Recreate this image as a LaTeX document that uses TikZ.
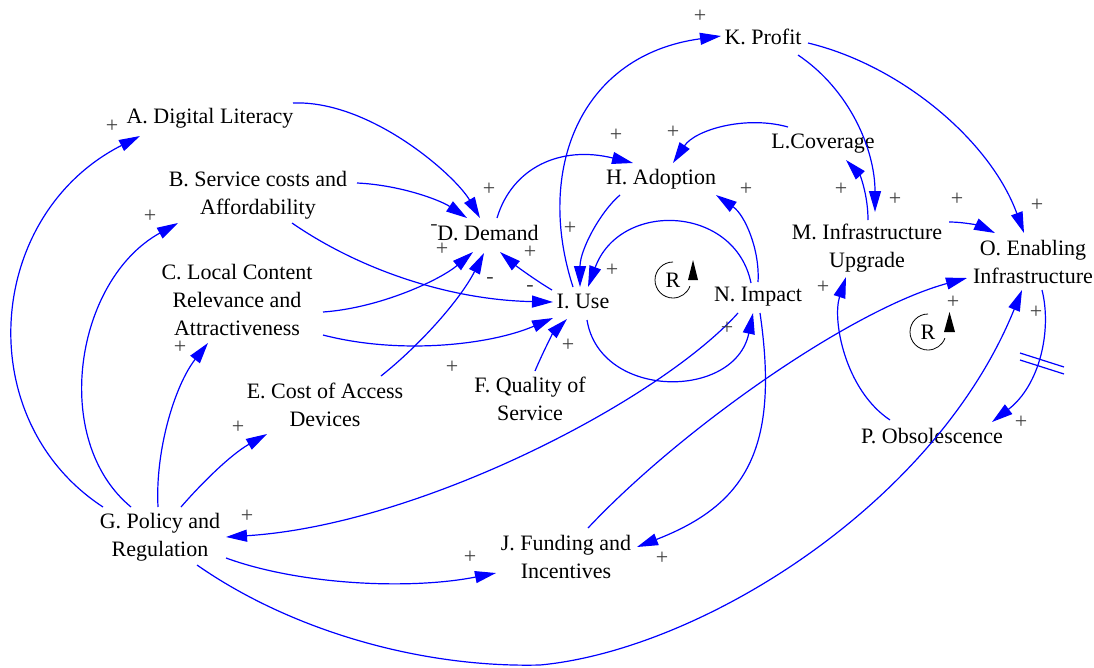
\documentclass[tikz,border=0pt]{standalone}
\usepackage{fontspec}
\setmainfont{Liberation Serif}
\usetikzlibrary{arrows.meta}
\definecolor{linkblue}{RGB}{0,0,255}
\begin{document}
\begin{tikzpicture}[x=1pt,y=-1pt,
  var/.style={align=center, inner sep=0pt, font=\fontsize{22}{28}\selectfont},
  link/.style={draw=linkblue, line width=1.2pt, -{Triangle[length=21pt,width=12pt]}},
  pol/.style={anchor=base, inner sep=0pt, text=black!75, font=\fontsize{22}{22}\selectfont},
  loopname/.style={inner sep=0pt, font=\fontsize{22}{22}\selectfont},
  loopring/.style={draw=black, line width=0.8pt}]
\useasboundingbox (0,0) rectangle (1094,667);

% variables
\node[var] (A) at (210,118) {A. Digital Literacy};
\node[var] (B) at (258,195) {B. Service costs and\\Affordability};
\node[var] (C) at (237,300) {C. Local Content\\Relevance and\\Attractiveness};
\node[var] (D) at (488,233) {D. Demand};
\node[var] (E) at (325,405) {E. Cost of Access\\Devices};
\node[var] (F) at (530,399) {F. Quality of\\Service};
\node[var] (G) at (160,537) {G. Policy and\\Regulation};
\node[var] (H) at (661,179) {H. Adoption};
\node[var] (I) at (583,301) {I. Use};
\node[var] (J) at (566,557) {J. Funding and\\Incentives};
\node[var] (K) at (763,37) {K. Profit};
\node[var] (L) at (823,144) {L.Coverage};
\node[var] (M) at (867,248) {M. Infrastructure\\Upgrade};
\node[var] (N) at (758,297) {N. Impact};
\node[var] (O) at (1033,262) {O. Enabling\\Infrastructure};
\node[var] (P) at (932,436) {P. Obsolescence};

% causal links
\draw[link] ([shift={(-57,-30)}]G.center) .. controls (-30,420) and (-15,215) .. ([shift={(-70,18)}]A.center);
\draw[link] ([shift={(-29,-30)}]G.center) .. controls (50,440) and (75,280) .. ([shift={(-80,28)}]B.center);
\draw[link] ([shift={(-2,-30)}]G.center) .. controls (155,450) and (175,385) .. ([shift={(-29,43)}]C.center);
\draw[link] ([shift={(21,-30)}]G.center) .. controls (200,485) and (230,455) .. ([shift={(-58,29)}]E.center);
\draw[link] ([shift={(-20,16)}]N.center) .. controls (660,400) and (420,525) .. ([shift={(66,0)}]G.center);
\draw[link] ([shift={(66,21)}]G.center) .. controls (300,585) and (410,590) .. ([shift={(-70,16)}]J.center);
\draw[link] ([shift={(37,28)}]G.center) .. controls (290,630) and (420,668) .. (540,665)
  .. controls (700,650) and (935,505) .. ([shift={(-11,28)}]O.center);
\draw[link] ([shift={(83,-15)}]A.center) .. controls (370,100) and (455,175) .. ([shift={(-8,-15)}]D.center);
\draw[link] ([shift={(99,-12)}]B.center) .. controls (400,185) and (440,200) .. ([shift={(-21,-15)}]D.center);
\draw[link] ([shift={(34,28)}]B.center) .. controls (360,270) and (450,300) .. ([shift={(-30,1)}]I.center);
\draw[link] ([shift={(86,12)}]C.center) .. controls (380,308) and (440,280) .. ([shift={(-15,19)}]D.center);
\draw[link] ([shift={(86,35)}]C.center) .. controls (400,355) and (490,345) .. ([shift={(-30,17)}]I.center);
\draw[link] ([shift={(56,-29)}]E.center) .. controls (420,345) and (460,300) .. ([shift={(-4,20)}]D.center);
\draw[link] ([shift={(-31,-11)}]I.center) .. controls (535,280) and (515,265) .. ([shift={(12,19)}]D.center);
\draw[link] ([shift={(5,-28)}]F.center) .. controls (543,352) and (553,333) .. ([shift={(-16,18)}]I.center);
\draw[link] ([shift={(9,-15)}]D.center) .. controls (512,168) and (560,145) .. ([shift={(-28,-16)}]H.center);
\draw[link] ([shift={(-41,16)}]H.center) .. controls (600,212) and (580,250) .. ([shift={(-3,-14)}]I.center);
\draw[link] ([shift={(-7,-14)}]N.center) .. controls (735,205) and (620,200) .. ([shift={(5,-14)}]I.center);
\draw[link] ([shift={(0,-15)}]N.center) .. controls (760,250) and (745,215) .. ([shift={(55,16)}]H.center);
\draw[link] ([shift={(-10,-14)}]I.center) .. controls (535,170) and (580,55) .. ([shift={(-42,-1)}]K.center);
\draw[link] ([shift={(4,19)}]I.center) .. controls (600,400) and (735,400) .. ([shift={(-5,16)}]N.center);
\draw[link] ([shift={(2,16)}]N.center) .. controls (780,450) and (745,505) .. ([shift={(71,-10)}]J.center);
\draw[link] ([shift={(22,-29)}]J.center) .. controls (680,430) and (850,310) .. ([shift={(-66,16)}]O.center);
\draw[link] ([shift={(35,18)}]K.center) .. controls (850,90) and (875,150) .. ([shift={(8,-36)}]M.center);
\draw[link] ([shift={(45,6)}]K.center) .. controls (900,65) and (990,140) .. ([shift={(-9,-29)}]O.center);
\draw[link] ([shift={(-35,-17)}]L.center) .. controls (745,115) and (695,130) .. ([shift={(12,-16)}]H.center);
\draw[link] ([shift={(1,-28)}]M.center) .. controls (868,195) and (860,175) .. ([shift={(23,16)}]L.center);
\draw[link] ([shift={(82,-26)}]M.center) .. controls (965,222) and (980,226) .. ([shift={(-38,-29)}]O.center);
\draw[link] ([shift={(-42,-16)}]P.center) .. controls (845,390) and (832,320) .. ([shift={(-21,29)}]M.center);
\draw[link] ([shift={(9,28)}]O.center) .. controls (1052,330) and (1040,385) .. ([shift={(60,-14)}]P.center);

% delay mark on the obsolescence link
\draw[linkblue, line width=1.2pt] (1020,353) -- (1064,367);
\draw[linkblue, line width=1.2pt] (1020,360) -- (1064,374);

% link polarities
\node[pol] (pGA) at (112,132) {+};
\node[pol] (pGB) at (150,222) {+};
\node[pol] (pGC) at (180,353) {+};
\node[pol] (pGE) at (238,433) {+};
\node[pol] (pNG) at (247,522) {+};
\node[pol] (pGJ) at (470,563) {+};
\node[pol] (pAD) at (489,195) {+};
\node[pol] (pBD) at (434,230) {-};
\node[pol] (pCD) at (442,255) {+};
\node[pol] (pED) at (490,283) {-};
\node[pol] (pID) at (530,258) {+};
\node[pol] (pBI) at (530,291) {-};
\node[pol] (pCI) at (452,373) {+};
\node[pol] (pFI) at (568,351) {+};
\node[pol] (pHI) at (570,234) {+};
\node[pol] (pNI) at (612,276) {+};
\node[pol] (pDH) at (616,141) {+};
\node[pol] (pLH) at (673,138) {+};
\node[pol] (pNH) at (746,195) {+};
\node[pol] (pIK) at (700,22) {+};
\node[pol] (pIN) at (727,334) {+};
\node[pol] (pNJ) at (662,564) {+};
\node[pol] (pML) at (841,195) {+};
\node[pol] (pKM) at (895,205) {+};
\node[pol] (pMO) at (957,205) {+};
\node[pol] (pKO) at (1037,211) {+};
\node[pol] (pPM) at (823,293) {+};
\node[pol] (pJO) at (953,308) {+};
\node[pol] (pGO) at (1036,318) {+};
\node[pol] (pOP) at (1021,428) {+};

% reinforcing loop markers
\node[loopname] (R1) at (673,280) {R};
\draw[loopring] ([shift={(-90:18)}]R1.center) arc[start angle=-90, end angle=-340, radius=18];
\fill ([shift={(15,0)}]R1.center) -- ++(10,0) -- ++(-5,-20) -- cycle;
\node[loopname] (R2) at (928,332) {R};
\draw[loopring] ([shift={(-90:18)}]R2.center) arc[start angle=-90, end angle=-340, radius=18];
\fill ([shift={(16,0)}]R2.center) -- ++(11,0) -- ++(-5.5,-20) -- cycle;
\end{tikzpicture}
\end{document}
